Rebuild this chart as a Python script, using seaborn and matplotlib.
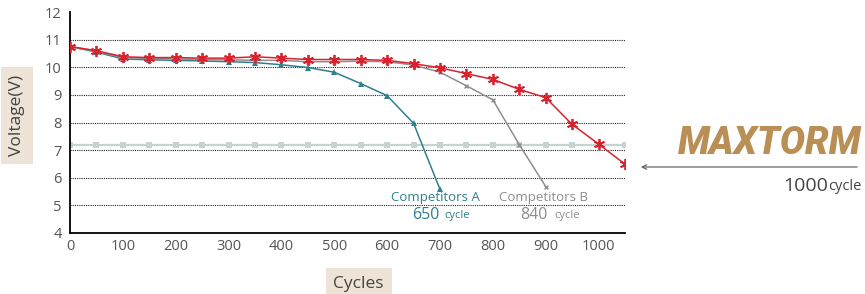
import matplotlib
matplotlib.use("Agg")
import matplotlib.pyplot as plt
import seaborn as sns
import pandas as pd

# ---- data ----
cycles_max = [0, 50, 100, 150, 200, 250, 300, 350, 400, 450, 500, 550, 600, 650, 700,
              750, 800, 850, 900, 950, 1000, 1050]
volt_max = [10.75, 10.6, 10.38, 10.35, 10.35, 10.33, 10.33, 10.38, 10.33, 10.28, 10.28,
            10.28, 10.25, 10.13, 9.98, 9.77, 9.56, 9.2, 8.9, 7.93, 7.22, 6.49]

cycles_a = [0, 50, 100, 150, 200, 250, 300, 350, 400, 450, 500, 550, 600, 650, 700]
volt_a = [10.75, 10.55, 10.3, 10.27, 10.25, 10.23, 10.2, 10.17, 10.09, 9.99, 9.82,
          9.41, 8.97, 7.97, 5.58]

cycles_b = [0, 50, 100, 150, 200, 250, 300, 350, 400, 450, 500, 550, 600, 650, 700,
            750, 800, 850, 900]
volt_b = [10.75, 10.58, 10.35, 10.32, 10.3, 10.28, 10.27, 10.25, 10.25, 10.2, 10.2,
          10.22, 10.2, 10.08, 9.82, 9.33, 8.82, 7.2, 5.68]

cycles_ref = list(range(0, 1051, 50))
volt_ref = [7.2] * len(cycles_ref)

y_ticks = [4, 5, 6, 7, 8, 9, 10, 11, 12]
x_ticks = [0, 100, 200, 300, 400, 500, 600, 700, 800, 900, 1000]

RED = "#d8232f"
TEAL = "#2f7f8f"
GRAY = "#8e8e8e"
LIGHT = "#c3d4d1"
BEIGE = "#ede3d6"
GOLD = "#b98f55"
TXT = "#555555"

sns.set_theme(style="white")
plt.rcParams["font.family"] = ["Open Sans", "DejaVu Sans"]

fig = plt.figure(figsize=(8.65, 2.94), dpi=100)
ax = fig.add_axes([70 / 865, 1 - 233 / 294, 555 / 865, 221 / 294])

df_ref = pd.DataFrame({"c": cycles_ref, "v": volt_ref})
df_a = pd.DataFrame({"c": cycles_a, "v": volt_a})
df_b = pd.DataFrame({"c": cycles_b, "v": volt_b})
df_m = pd.DataFrame({"c": cycles_max, "v": volt_max})

sns.lineplot(data=df_ref, x="c", y="v", ax=ax, color=LIGHT, lw=1.6, marker="s",
             markersize=4, markeredgewidth=0, zorder=2)
sns.lineplot(data=df_a, x="c", y="v", ax=ax, color=TEAL, lw=1.1, marker="^",
             markersize=4, markeredgewidth=0, zorder=3)
sns.lineplot(data=df_b, x="c", y="v", ax=ax, color=GRAY, lw=1.1, marker="x",
             markersize=3.5, markeredgewidth=1, markeredgecolor=GRAY, zorder=3)
sns.lineplot(data=df_m, x="c", y="v", ax=ax, color=RED, lw=1.1, marker=(6, 2, 0),
             markersize=8, markeredgewidth=1.3, markeredgecolor=RED, zorder=4)

ax.set_xlim(0, 1050)
ax.set_ylim(4, 12)
ax.set_xticks(x_ticks)
ax.set_yticks(y_ticks)
ax.set_xticklabels([str(t) for t in x_ticks], color=TXT, fontsize=10.5)
ax.set_yticklabels([str(t) for t in y_ticks], color=TXT, fontsize=10.5)
for yv in y_ticks[1:-1]:
    ax.axhline(yv, color="#222222", lw=0.8, ls=(0, (1, 1)), zorder=1)
ax.grid(False)
for s in ["top", "right"]:
    ax.spines[s].set_visible(False)
ax.spines["left"].set_color("black")
ax.spines["bottom"].set_color("black")
ax.spines["left"].set_linewidth(1.3)
ax.spines["bottom"].set_linewidth(1.3)
ax.tick_params(axis="x", direction="in", length=5, width=0.8, color="#aaaaaa", pad=4)
ax.tick_params(axis="y", length=0, pad=6)

ax.set_xlabel("Cycles", fontsize=12.5, color="#444444",
              bbox=dict(boxstyle="square,pad=0.45", fc=BEIGE, ec="none"))
ax.xaxis.set_label_coords(0.52, -0.195)
ax.set_ylabel("Voltage(V)", fontsize=12.5, color="#444444",
              bbox=dict(boxstyle="square,pad=0.45", fc=BEIGE, ec="none"))
ax.yaxis.set_label_coords(-0.081, 0.53)

# annotations
ax.text(692, 5.3, "Competitors A", color=TEAL, fontsize=9.5, ha="center", va="center")
ax.text(647, 4.65, "650", color=TEAL, fontsize=11.5, ha="left", va="center")
ax.text(709, 4.62, "cycle", color=TEAL, fontsize=8, ha="left", va="center")
ax.text(895, 5.3, "Competitors B", color=GRAY, fontsize=9.5, ha="center", va="center")
ax.text(852, 4.65, "840", color=GRAY, fontsize=11.5, ha="left", va="center")
ax.text(916, 4.62, "cycle", color=GRAY, fontsize=8, ha="left", va="center")

# right side brand
fig.text(862 / 865, 1 - 143 / 294, "MAXTORM", color=GOLD, fontsize=27,
         fontweight="black", fontstyle="italic", family=["Roboto", "DejaVu Sans"],
         ha="right", va="center")
fig.add_artist(matplotlib.patches.FancyArrowPatch(
    (860 / 865, 1 - 167 / 294), (638 / 865, 1 - 167 / 294),
    transform=fig.transFigure, arrowstyle="->", mutation_scale=8,
    color="#666666", lw=0.9))
fig.text(783 / 865, 1 - 186 / 294, "1000", color="#444444", fontsize=14,
         ha="left", va="center")
fig.text(828 / 865, 1 - 187 / 294, "cycle", color="#444444", fontsize=10.5,
         ha="left", va="center")

fig.savefig("out.png", dpi=100)
